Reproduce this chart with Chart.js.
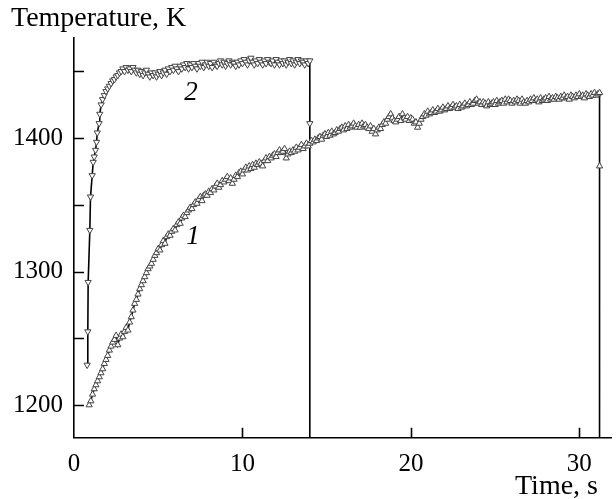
<!DOCTYPE html>
<html>
<head>
<meta charset="utf-8">
<style>
  html, body { margin: 0; padding: 0; background: #fff; }
  #wrap { width: 616px; height: 499px; }
  canvas { display: block; }
</style>
<script src="https://cdn.jsdelivr.net/npm/chart.js@4/dist/chart.umd.min.js"></script>
</head>
<body>
<div id="wrap"><canvas id="c" width="616" height="499"></canvas></div>
<script>
// ---------- DATA ----------
// Curve 1 (upward triangles): time, s
const time1 = [
  0.9,1.0,1.1,1.2,1.3,1.4,1.5,1.6,1.7,1.8,
  1.9,2.0,2.1,2.2,2.3,2.4,2.5,2.6,2.7,2.8,
  2.9,3.0,3.1,3.2,3.3,3.4,3.5,3.6,3.7,3.8,
  3.9,4.0,4.1,4.2,4.3,4.4,4.5,4.6,4.7,4.8,
  4.9,5.0,5.1,5.2,5.3,5.4,5.5,5.6,5.7,5.8,
  5.9,6.0,6.1,6.2,6.3,6.4,6.5,6.6,6.7,6.8,
  6.9,7.0,7.1,7.2,7.3,7.4,7.5,7.6,7.7,7.8,
  7.9,8.0,8.1,8.2,8.3,8.4,8.5,8.6,8.7,8.8,
  8.9,9.0,9.1,9.2,9.3,9.4,9.5,9.6,9.7,9.8,
  9.9,10.0,10.1,10.2,10.3,10.4,10.5,10.6,10.7,10.8,
  10.9,11.0,11.1,11.2,11.3,11.4,11.5,11.6,11.7,11.8,
  11.9,12.0,12.1,12.2,12.3,12.4,12.5,12.6,12.7,12.8,
  12.9,13.0,13.1,13.2,13.3,13.4,13.5,13.6,13.7,13.8,
  13.9,14.0,14.1,14.2,14.3,14.4,14.5,14.6,14.7,14.8,
  14.9,15.0,15.1,15.2,15.3,15.4,15.5,15.6,15.7,15.8,
  15.9,16.0,16.1,16.2,16.3,16.4,16.5,16.6,16.7,16.8,
  16.9,17.0,17.1,17.2,17.3,17.4,17.5,17.6,17.7,17.8,
  17.9,18.0,18.1,18.2,18.3,18.4,18.5,18.6,18.7,18.8,
  18.9,19.0,19.1,19.2,19.3,19.4,19.5,19.6,19.7,19.8,
  19.9,20.0,20.1,20.2,20.3,20.4,20.5,20.6,20.7,20.8,
  20.9,21.0,21.1,21.2,21.3,21.4,21.5,21.6,21.7,21.8,
  21.9,22.0,22.1,22.2,22.3,22.4,22.5,22.6,22.7,22.8,
  22.9,23.0,23.1,23.2,23.3,23.4,23.5,23.6,23.7,23.8,
  23.9,24.0,24.1,24.2,24.3,24.4,24.5,24.6,24.7,24.8,
  24.9,25.0,25.1,25.2,25.3,25.4,25.5,25.6,25.7,25.8,
  25.9,26.0,26.1,26.2,26.3,26.4,26.5,26.6,26.7,26.8,
  26.9,27.0,27.1,27.2,27.3,27.4,27.5,27.6,27.7,27.8,
  27.9,28.0,28.1,28.2,28.3,28.4,28.5,28.6,28.7,28.8,
  28.9,29.0,29.1,29.2,29.3,29.4,29.5,29.6,29.7,29.8,
  29.9,30.0,30.1,30.2,30.3,30.4,30.5,30.6,30.7,30.8,
  30.9,31.0,31.1,31.2,31.2,31.2];
// Curve 1: temperature, K
const temp1 = [
  1200,1203,1208,1212,1215,1218,1221,1224,1227,1231,
  1234,1237,1241,1244,1247,1249,1252,1245,1250,1253,
  1251,1255,1258,1256,1262,1266,1271,1276,1279,1283,
  1287,1290,1293,1296,1299,1302,1304,1306,1309,1312,
  1314,1317,1316,1320,1323,1321,1326,1328,1327,1330,
  1332,1331,1335,1337,1336,1340,1342,1341,1344,1346,
  1348,1347,1350,1352,1351,1354,1356,1353,1357,1358,
  1357,1360,1359,1362,1361,1364,1366,1363,1365,1368,
  1367,1369,1371,1368,1370,1366,1369,1372,1371,1374,
  1375,1373,1376,1378,1376,1379,1377,1380,1378,1381,
  1380,1382,1381,1379,1383,1385,1383,1386,1385,1387,
  1388,1386,1389,1391,1389,1390,1392,1385,1388,1390,
  1389,1391,1390,1393,1391,1393,1395,1392,1394,1396,
  1394,1396,1398,1397,1399,1398,1400,1401,1399,1402,
  1403,1401,1404,1402,1405,1403,1404,1406,1405,1407,
  1408,1406,1409,1407,1410,1408,1409,1411,1409,1408,
  1410,1408,1411,1409,1410,1408,1407,1409,1405,1407,
  1403,1406,1408,1407,1410,1412,1411,1414,1416,1418,
  1415,1413,1412,1414,1416,1413,1418,1415,1414,1416,
  1413,1415,1414,1411,1412,1408,1411,1414,1416,1418,
  1417,1420,1418,1419,1421,1419,1420,1422,1420,1421,
  1423,1421,1422,1424,1422,1423,1425,1423,1424,1422,
  1425,1423,1424,1426,1424,1425,1427,1425,1426,1428,
  1429,1426,1427,1425,1427,1426,1424,1427,1425,1426,
  1427,1425,1428,1426,1427,1428,1426,1429,1427,1429,
  1428,1426,1428,1427,1429,1428,1426,1429,1427,1426,
  1428,1427,1429,1428,1430,1428,1429,1427,1430,1428,
  1429,1430,1428,1431,1429,1430,1429,1431,1430,1429,
  1431,1430,1432,1430,1431,1429,1432,1431,1430,1432,
  1431,1433,1431,1432,1430,1433,1432,1431,1433,1432,
  1434,1432,1433,1434,1379,1150];

// Curve 2 (downward triangles): time, s
const time2 = [
  0.78,0.82,0.84,0.94,0.98,1.08,1.14,1.2,1.28,1.34,1.38,1.49,1.53,1.61,
  1.7,1.8,1.9,2.0,2.1,2.2,2.3,2.4,2.5,2.6,
  2.7,2.8,2.9,3.0,3.1,3.2,3.3,3.4,3.5,3.6,
  3.7,3.8,3.9,4.0,4.1,4.2,4.3,4.4,4.5,4.6,
  4.7,4.8,4.9,5.0,5.1,5.2,5.3,5.4,5.5,5.6,
  5.7,5.8,5.9,6.0,6.1,6.2,6.3,6.4,6.5,6.6,
  6.7,6.8,6.9,7.0,7.1,7.2,7.3,7.4,7.5,7.6,
  7.7,7.8,7.9,8.0,8.1,8.2,8.3,8.4,8.5,8.6,
  8.7,8.8,8.9,9.0,9.1,9.2,9.3,9.4,9.5,9.6,
  9.7,9.8,9.9,10.0,10.1,10.2,10.3,10.4,10.5,10.6,
  10.7,10.8,10.9,11.0,11.1,11.2,11.3,11.4,11.5,11.6,
  11.7,11.8,11.9,12.0,12.1,12.2,12.3,12.4,12.5,12.6,
  12.7,12.8,12.9,13.0,13.1,13.2,13.3,13.4,13.5,13.6,
  13.7,13.8,13.9,14.0,14.0,14.0];
// Curve 2: temperature, K
const temp2 = [
  1230,1255,1292,1331,1356,1372,1382,1386,1391,1397,1404,1411,1418,1425,
  1429,1432,1435,1437,1439,1441,1443,1444,1446,1447,
  1449,1450,1452,1450,1453,1451,1452,1450,1453,1451,
  1449,1451,1448,1450,1447,1449,1451,1448,1446,1449,
  1447,1449,1446,1448,1450,1447,1449,1451,1448,1452,
  1450,1453,1451,1454,1452,1450,1454,1452,1455,1453,
  1456,1452,1455,1453,1456,1454,1452,1456,1454,1457,
  1453,1455,1457,1454,1456,1453,1457,1455,1454,1456,
  1458,1455,1457,1454,1456,1458,1455,1457,1456,1454,
  1457,1455,1458,1456,1459,1457,1455,1458,1460,1457,
  1455,1458,1456,1459,1457,1455,1458,1456,1459,1457,
  1456,1458,1455,1459,1457,1455,1458,1456,1458,1455,
  1457,1459,1456,1458,1455,1457,1459,1456,1458,1457,
  1455,1458,1456,1458,1411,1150];

// Axis ticks
const xTickValues = [0, 10, 20, 30];
const yTickValues = [1200, 1250, 1300, 1350, 1400, 1450];
const yLabelValues = [1200, 1300, 1400];
// Curve labels: text, time, temperature
const curveLabels = ['1', '2'];
const curveLabelTime = [7.06, 6.94];
const curveLabelTemp = [1326, 1434];

// ---------- CHART ----------
const FONT = '"Liberation Serif", "Times New Roman", serif';

function toPoints(xs, ys) { return xs.map((x, i) => ({ x: x, y: ys[i] })); }

function radiusFn(n) {
  return ctx => (ctx.dataIndex === n - 1 ? 0 : 3.6);
}

const innerTicks = {
  id: 'innerTicks',
  afterDraw(chart) {
    const ctx = chart.ctx;
    const xs = chart.scales.x, ys = chart.scales.y;
    const a = chart.chartArea;
    ctx.save();
    ctx.strokeStyle = '#000';
    ctx.lineWidth = 1.6;
    ctx.beginPath();
    yTickValues.forEach(v => {
      const py = Math.round(ys.getPixelForValue(v)) + 0.5;
      ctx.moveTo(a.left, py); ctx.lineTo(a.left + 10, py);
    });
    xTickValues.forEach(v => {
      if (v === 0) return;
      const px = Math.round(xs.getPixelForValue(v)) + 0.5;
      ctx.moveTo(px, a.bottom); ctx.lineTo(px, a.bottom - 10);
    });
    ctx.stroke();
    // curve labels
    ctx.fillStyle = '#000';
    ctx.font = 'italic 27px ' + FONT;
    ctx.textAlign = 'center';
    ctx.textBaseline = 'middle';
    curveLabels.forEach((t, i) => {
      ctx.fillText(t, xs.getPixelForValue(curveLabelTime[i]), ys.getPixelForValue(curveLabelTemp[i]));
    });
    // x axis title
    ctx.font = '28px ' + FONT;
    ctx.textAlign = 'right';
    ctx.textBaseline = 'alphabetic';
    ctx.fillText('Time, s', 598, 494);
    ctx.restore();
  }
};

new Chart(document.getElementById('c'), {
  type: 'line',
  data: {
    datasets: [
      {
        label: '1',
        data: toPoints(time1, temp1),
        borderColor: '#000',
        borderWidth: 1.6,
        pointStyle: 'triangle',
        pointRadius: radiusFn(time1.length),
        pointBackgroundColor: '#fff',
        pointBorderColor: '#444',
        pointBorderWidth: 1,
        tension: 0
      },
      {
        label: '2',
        data: toPoints(time2, temp2),
        borderColor: '#000',
        borderWidth: 1.6,
        pointStyle: 'triangle',
        pointRotation: 180,
        pointRadius: radiusFn(time2.length),
        pointBackgroundColor: '#fff',
        pointBorderColor: '#444',
        pointBorderWidth: 1,
        tension: 0
      }
    ]
  },
  options: {
    responsive: false,
    animation: false,
    devicePixelRatio: 1,
    layout: { padding: { left: 11, right: 0, top: 0, bottom: 0 } },
    plugins: {
      legend: { display: false },
      tooltip: { enabled: false },
      title: {
        display: true,
        text: 'Temperature, K',
        align: 'start',
        color: '#000',
        font: { family: FONT, size: 28, weight: 'normal', lineHeight: 1.2 },
        padding: { top: 2, bottom: 2.4 }
      }
    },
    scales: {
      x: {
        type: 'linear',
        min: 0,
        max: 31.88,
        grid: { display: false, drawTicks: false },
        border: { display: true, color: '#000', width: 1.6 },
        afterBuildTicks: s => { s.ticks = xTickValues.map(v => ({ value: v })); },
        ticks: {
          color: '#000',
          padding: 12,
          maxRotation: 0,
          autoSkip: false,
          font: { family: FONT, size: 25 },
          callback: v => String(v)
        },
        afterFit: s => { s.height = 61.3; }
      },
      y: {
        type: 'linear',
        min: 1175.5,
        max: 1475,
        grid: { display: false, drawTicks: false },
        border: { display: true, color: '#000', width: 1.6 },
        afterBuildTicks: s => { s.ticks = yTickValues.map(v => ({ value: v })); },
        ticks: {
          color: '#000',
          padding: 11,
          autoSkip: false,
          font: { family: FONT, size: 25 },
          callback: v => (yLabelValues.includes(v) ? String(v) : '')
        },
        afterFit: s => { s.width = 63; }
      }
    }
  },
  plugins: [innerTicks]
});
</script>
</body>
</html>
